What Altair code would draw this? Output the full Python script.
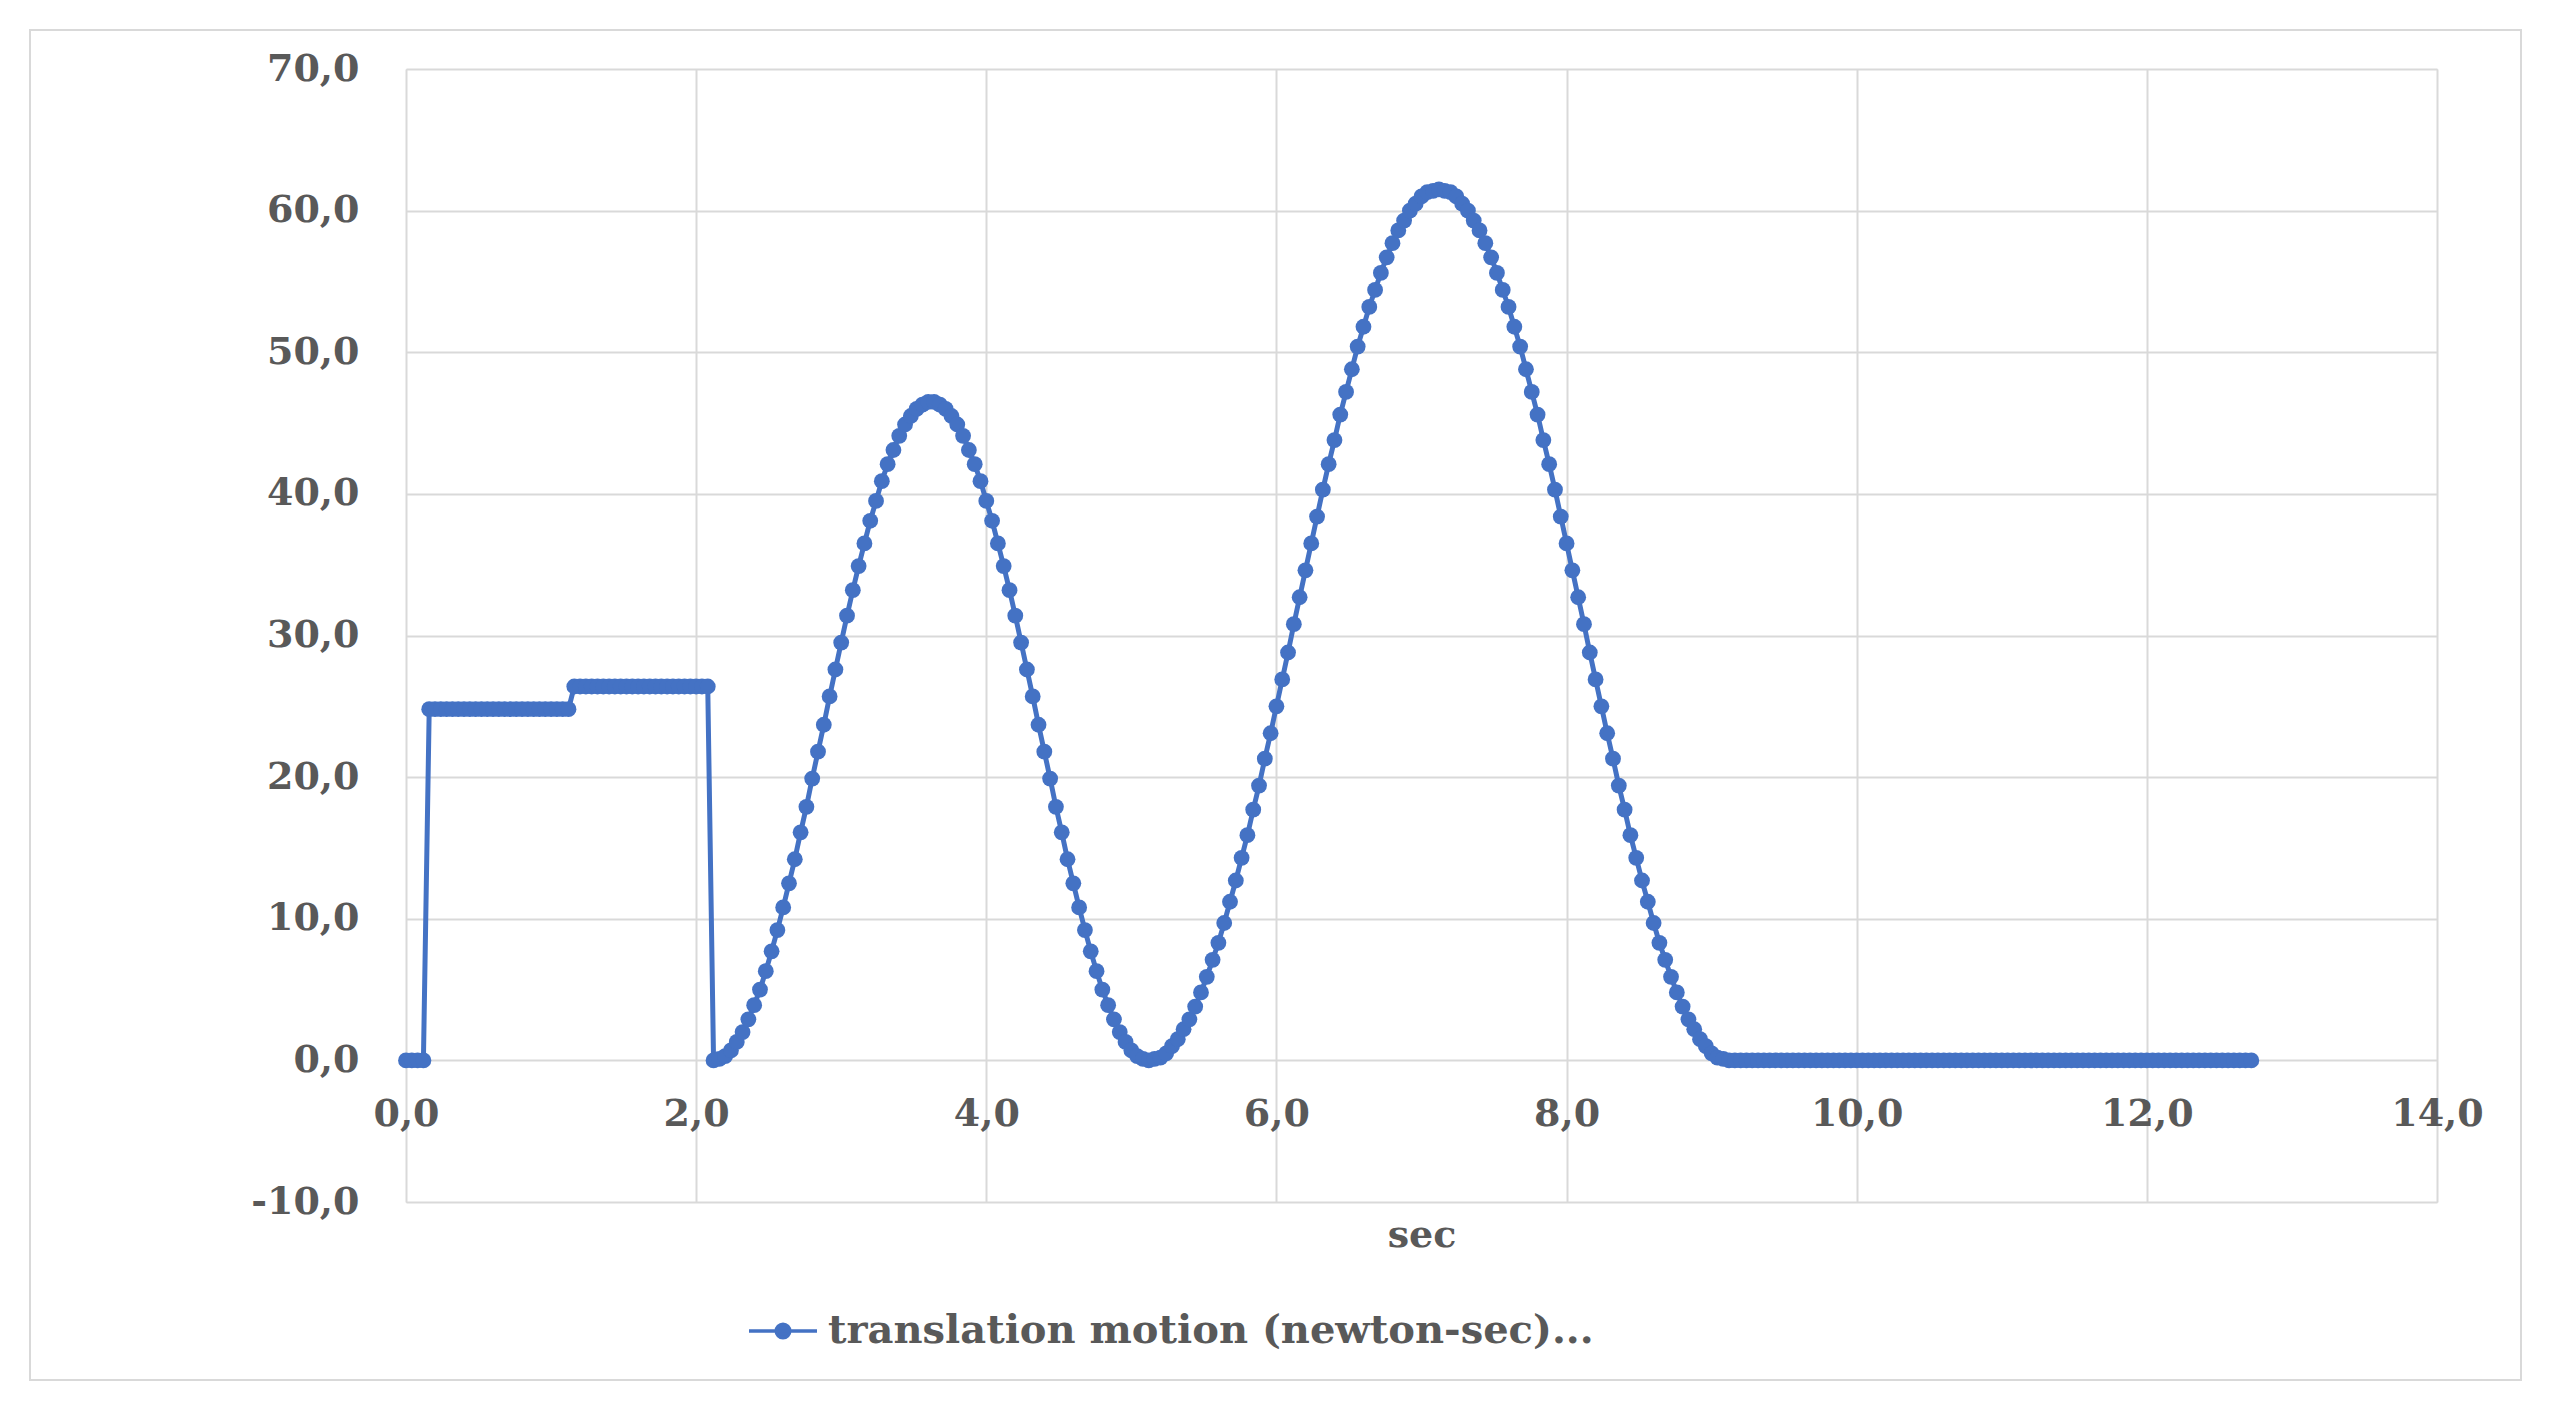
import altair as alt
import pandas as pd

SERIES = "translation motion (newton-sec)..."
DT = 0.04  # sampling interval read from the dot spacing

# values, one per plotted dot
start_values = [0.0] * 4 + [24.8] * 25 + [26.4] * 24
hump1_values = [0.0, 0.1, 0.3, 0.7, 1.3, 2.0, 2.9, 3.9, 5.0, 6.3, 7.7, 9.2, 10.8, 12.5,
                14.2, 16.1, 17.9, 19.9, 21.8, 23.7, 25.7, 27.6, 29.5, 31.4, 33.2, 34.9,
                36.5, 38.1, 39.5, 40.9, 42.1, 43.1, 44.1, 44.9, 45.5, 46.0, 46.3, 46.5,
                46.5, 46.3, 46.0, 45.5, 44.9, 44.1, 43.1, 42.1, 40.9, 39.5, 38.1, 36.5,
                34.9, 33.2, 31.4, 29.5, 27.6, 25.7, 23.7, 21.8, 19.9, 17.9, 16.1, 14.2,
                12.5, 10.8, 9.2, 7.7, 6.3, 5.0, 3.9, 2.9, 2.0, 1.3, 0.7, 0.3, 0.1, 0.0]
hump2_values = [0.1, 0.2, 0.5, 1.0, 1.5, 2.2, 2.9, 3.8, 4.8, 5.9, 7.1, 8.3, 9.7, 11.2,
                12.7, 14.3, 15.9, 17.7, 19.4, 21.3, 23.1, 25.0, 26.9, 28.8, 30.8, 32.7,
                34.6, 36.5, 38.4, 40.3, 42.1, 43.8, 45.6, 47.2, 48.8, 50.4, 51.8, 53.2,
                54.4, 55.6, 56.7, 57.7, 58.6, 59.3, 60.0, 60.5, 61.0, 61.3, 61.4, 61.5,
                61.4, 61.3, 61.0, 60.5, 60.0, 59.3, 58.6, 57.7, 56.7, 55.6, 54.4, 53.2,
                51.8, 50.4, 48.8, 47.2, 45.6, 43.8, 42.1, 40.3, 38.4, 36.5, 34.6, 32.7,
                30.8, 28.8, 26.9, 25.0, 23.1, 21.3, 19.4, 17.7, 15.9, 14.3, 12.7, 11.2,
                9.7, 8.3, 7.1, 5.9, 4.8, 3.8, 2.9, 2.2, 1.5, 1.0, 0.5, 0.2, 0.1, 0.0]
tail_values = [0.0] * 90

x_ticks = [0, 2, 4, 6, 8, 10, 12, 14]
y_ticks = [-10, 0, 10, 20, 30, 40, 50, 60, 70]

values = start_values + hump1_values + hump2_values + tail_values
times = [round(DT * i, 2) for i in range(len(values))]
df = pd.DataFrame({"t": times, "v": values, "series": SERIES})

BLUE = "#4472C4"
FONT = "DejaVu Serif"
TXT = "#595959"
GRID = "#d9d9d9"
FS = 38

num_expr = "(datum.value < 0 ? '-' : '') + replace(format(abs(datum.value), '.1f'), '.', ',')"

x = alt.X(
    "t:Q",
    scale=alt.Scale(domain=[0, 14], nice=False, zero=False),
    axis=alt.Axis(
        values=x_ticks, title="sec", offset=-142, domain=False, ticks=False, tickSize=0,
        labelExpr=num_expr, labelFlush=False, labelOverlap=False, labelPadding=54,
        labelBaseline="middle", labelFont=FONT, labelFontSize=FS, labelFontWeight="bold",
        labelColor=TXT, titleFont=FONT, titleFontSize=FS, titleFontWeight="bold",
        titleColor=TXT, titleY=175, titleBaseline="middle",
        grid=True, gridColor=GRID, gridWidth=2,
    ),
)
y = alt.Y(
    "v:Q",
    scale=alt.Scale(domain=[-10, 70], nice=False, zero=False),
    axis=alt.Axis(
        values=y_ticks, title=None, domain=False, ticks=False, tickSize=0,
        labelExpr=num_expr, labelFlush=False, labelOverlap=False, labelPadding=47,
        labelFont=FONT, labelFontSize=FS, labelFontWeight="bold", labelColor=TXT,
        grid=True, gridColor=GRID, gridWidth=2,
    ),
)

legend = alt.Legend(
    title=None, orient="none", legendX=341, legendY=1226, padding=0,
    symbolType="M-1,0L1,0M-0.2,0A0.2,0.2 0 1,1 0.2,0A0.2,0.2 0 1,1 -0.2,0",
    symbolSize=4624, symbolStrokeWidth=3.5, symbolFillColor=BLUE, symbolStrokeColor=BLUE,
    labelFont=FONT, labelFontSize=40, labelFontWeight="bold", labelColor=TXT,
    labelLimit=0, labelOffset=9,
)

main = alt.Chart(df).mark_line(
    strokeWidth=5, point=alt.OverlayMarkDef(filled=True, size=250)
).encode(
    x=x, y=y,
    color=alt.Color("series:N", scale=alt.Scale(range=[BLUE]), legend=legend),
)

frame = alt.Chart(pd.DataFrame({"f": [0]})).mark_rect(
    fillOpacity=0, stroke=GRID, strokeWidth=2
).encode(
    x=alt.value(-376), x2=alt.value(2115), y=alt.value(-39), y2=alt.value(1311)
)

chart = alt.layer(frame, main).properties(
    width=2031, height=1133,
    autosize=alt.AutoSizeParams(type="none"),
    padding={"left": 398, "top": 61, "right": 100, "bottom": 200},
).configure_view(stroke=None).configure(background="white")

chart.save("out.html", embed_options={"renderer": "svg", "actions": False})
